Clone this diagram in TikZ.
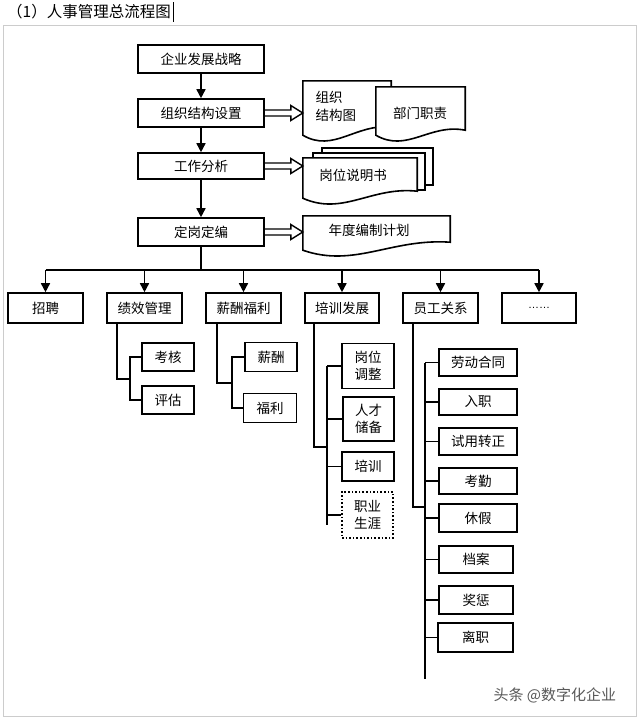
\documentclass[tikz,border=0pt]{standalone}
\usepackage{fontspec}
\setmainfont{Liberation Sans}
\newfontfamily\cjk{Noto Sans CJK SC}
\usetikzlibrary{arrows.meta,calc}
\newcommand\docpath[2]{(#1.south west) -- (#1.north west) -- (#1.north east) -- ([yshift=#2pt]#1.south east) .. controls ($(#1.south west)!0.6!(#1.south east)+(0,-12)$) and ($(#1.south west)!0.35!(#1.south east)+(0,18)$) .. (#1.south west) -- cycle}
\newcommand\dblarrow[2]{\draw[dbl] ($(#1)+(0,-3)$) -- ($(#2)+(-12,-3)$) -- ($(#2)+(-12,-7.5)$) -- (#2) -- ($(#2)+(-12,7.5)$) -- ($(#2)+(-12,3)$) -- ($(#1)+(0,3)$);}
\begin{document}
\begin{tikzpicture}[x=1pt,y=-1pt,
  font=\cjk\fontsize{13.5}{18}\selectfont,
  box/.style={draw, line width=1.6pt, fill=white, inner sep=0pt, align=center},
  conn/.style={line width=1.6pt},
  arr/.style={line width=1.6pt, -{Triangle[length=9pt,width=9pt]}},
  docf/.style={draw, line width=1.6pt, fill=white, line join=miter},
  frame/.style={minimum width=#1, inner sep=0pt, outer sep=0pt},
  dbl/.style={line width=1.4pt, line join=miter}]
\useasboundingbox (0,0) rectangle (640,718);
\fill[white] (0,0) rectangle (640,718);
\draw[black!20, line width=1pt] (3,25) rectangle (636,716);

% title
\node[anchor=west, inner sep=0pt, font=\cjk\fontsize{15.5}{18}\selectfont] (title) at (7,12) {（1）人事管理总流程图};
\draw[line width=1pt] ([xshift=2pt]title.east |- 0,2) -- ([xshift=2pt]title.east |- 0,22);

% main column
\node[box, minimum width=126pt, minimum height=28pt] (s1) at (201,59) {企业发展战略};
\node[box, minimum width=126pt, minimum height=28pt] (s2) at (201,113) {组织结构设置};
\node[box, minimum width=126pt, minimum height=26pt] (s3) at (201,166) {工作分析};
\node[box, minimum width=126pt, minimum height=28pt] (s4) at (201,232) {定岗定编};
\draw[arr] (s1.south) -- (s2.north);
\draw[arr] (s2.south) -- (s3.north);
\draw[arr] (s3.south) -- (s4.north);

% documents
\node[inner sep=0pt, minimum width=88pt, minimum height=54pt] (d1) at (347,108) {};
\node[inner sep=0pt, minimum width=89pt, minimum height=48pt] (d2) at (420.5,111) {};
\draw[docf] \docpath{d1}{8};
\draw[docf] \docpath{d2}{5};
\node[align=left, anchor=west] (d1t) at (312,106) {组织\\结构图};
\node (d2t) at (420,113) {部门职责};

\draw[docf] (322,148) rectangle (433,185);
\draw[docf] (313,153) rectangle (425,190);
\node[inner sep=0pt, minimum width=114pt, minimum height=40pt] (d3) at (360,178) {};
\draw[docf] \docpath{d3}{7};
\node (d3t) at (353,175) {岗位说明书};

\node[inner sep=0pt, minimum width=147pt, minimum height=34pt] (d4) at (376.5,233) {};
\draw[docf] \docpath{d4}{8};
\node (d4t) at (369,230) {年度编制计划};

\dblarrow{s2.east}{s2.east -| d1.west}
\dblarrow{s3.east}{s3.east -| d3.west}
\dblarrow{s4.east}{s4.east -| d4.west}

% second row
\node[box, minimum width=75pt, minimum height=30pt] (zp) at (45.5,308) {招聘};
\node[box, minimum width=75pt, minimum height=30pt] (jx) at (144.5,308) {绩效管理};
\node[box, minimum width=75pt, minimum height=30pt] (xc) at (243.5,308) {薪酬福利};
\node[box, minimum width=74pt, minimum height=30pt] (px) at (342,308) {培训发展};
\node[box, minimum width=75pt, minimum height=30pt] (yg) at (440.5,308) {员工关系};
\node[box, minimum width=74pt, minimum height=30pt] (dt) at (539,308) {\fontspec{Liberation Sans}\fontsize{11}{13}\selectfont ……};

\coordinate (bus) at (201,270);
\draw[conn] (s4.south) -- (bus);
\draw[conn] (zp.north |- bus) -- (dt.north |- bus);
\foreach \n in {zp,jx,xc,px,yg,dt} \draw[arr] (\n.north |- bus) -- (\n.north);

% performance
\node[box, minimum width=52pt, minimum height=28pt] (kh) at (168,357) {考核};
\node[box, minimum width=52pt, minimum height=28pt] (pg) at (168,400) {评估};
\coordinate (jxa) at (117,379);
\coordinate (jxb) at (130,379);
\draw[conn] (jx.south -| jxa) -- (jxa) -- (jxb);
\draw[conn] (kh.west) -- (kh.west -| jxb) -- (pg.west -| jxb) -- (pg.west);

% compensation
\node[box, minimum width=52pt, minimum height=29pt] (xch) at (271,357) {薪酬};
\node[box, minimum width=53pt, minimum height=29pt] (fl) at (270,408) {福利};
\coordinate (xca) at (217,383);
\coordinate (xcb) at (232,383);
\draw[conn] (xc.south -| xca) -- (xca) -- (xcb);
\draw[conn] (xch.west) -- (xch.west -| xcb) -- (fl.west -| xcb) -- (fl.west);

% training
\node[box, minimum width=52pt, minimum height=45pt, font=\cjk\fontsize{13.5}{17}\selectfont] (gw) at (368,366) {岗位\\调整};
\node[box, minimum width=51pt, minimum height=44pt, font=\cjk\fontsize{13.5}{17}\selectfont] (rc) at (368.5,419) {人才\\储备};
\node[box, minimum width=52pt, minimum height=29pt] (pt) at (368,466.5) {培训};
\node[box, dotted, minimum width=51pt, minimum height=46pt, font=\cjk\fontsize{13.5}{17}\selectfont] (zy) at (367.5,515) {职业\\生涯};
\coordinate (pxa) at (314,447);
\coordinate (pxb) at (327,447);
\coordinate (pxe) at (327,525);
\draw[conn] (px.south -| pxa) -- (pxa) -- (pxb);
\draw[conn] (gw.west -| pxb) -- (pxe);
\foreach \n in {gw,rc,pt,zy} \draw[conn] (\n.west -| pxb) -- (\n.west);

% employee relations
\node[box, minimum width=78pt, minimum height=27pt] (ld) at (478,362.5) {劳动合同};
\node[box, minimum width=78pt, minimum height=26pt] (rz) at (478,402) {入职};
\node[box, minimum width=78pt, minimum height=27pt] (sy) at (478,441.5) {试用转正};
\node[box, minimum width=78pt, minimum height=26pt] (kq) at (478,481) {考勤};
\node[box, minimum width=78pt, minimum height=28pt] (xj) at (478,518) {休假};
\node[box, minimum width=74pt, minimum height=27pt] (da) at (476,559.5) {档案};
\node[box, minimum width=74pt, minimum height=28pt] (jc) at (476,600) {奖惩};
\node[box, minimum width=75pt, minimum height=29pt] (lz) at (475.5,637.5) {离职};
\coordinate (yga) at (413,507);
\coordinate (ygb) at (425,507);
\coordinate (yge) at (425,679);
\draw[conn] (yg.south -| yga) -- (yga) -- (ygb);
\draw[conn] (ld.west -| ygb) -- (yge);
\foreach \n in {ld,rz,sy,kq,xj,da,jc,lz} \draw[conn] (\n.west -| ygb) -- (\n.west);

% watermark
\node[anchor=west, text=black!65, font=\cjk\fontsize{15}{18}\selectfont] (wm) at (490,695) {头条 @数字化企业};
\end{tikzpicture}
\end{document}
